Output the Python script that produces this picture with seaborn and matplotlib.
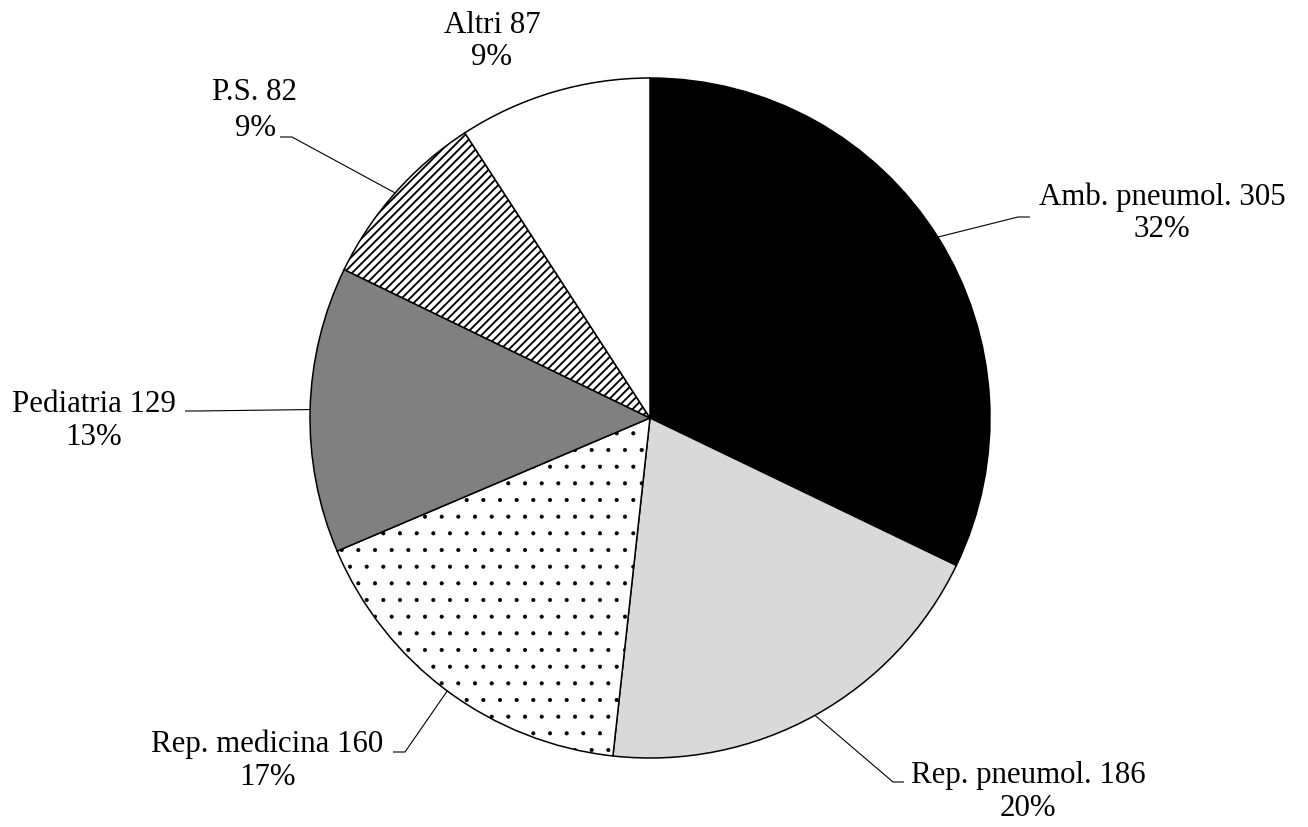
import numpy as np
import matplotlib
matplotlib.use("Agg")
import matplotlib.pyplot as plt
import seaborn as sns

# Data
categories = ["Amb. pneumol.", "Rep. pneumol.", "Rep. medicina", "Pediatria", "P.S.", "Altri"]
counts = [305, 186, 160, 129, 82, 87]
pct_labels = ["32%", "20%", "17%", "13%", "9%", "9%"]

# Styling per slice
face_colors = ["#000000", "#d9d9d9", "#ffffff", "#808080", "#ffffff", "#ffffff"]
hatches = [None, None, ".", None, "////", None]
hatch_widths = [None, None, 0.5, None, 1.35, None]

sns.set_theme(style="white")
plt.rcParams["font.family"] = ["Liberation Serif", "DejaVu Serif"]
plt.rcParams["hatch.linewidth"] = 1.0
plt.rcParams["hatch.color"] = "black"

W, H = 1308, 827
fig = plt.figure(figsize=(W / 100, H / 100), dpi=100)
ax = fig.add_axes([0, 0, 1, 1])


def py(y):
    """Convert a top-down pixel row into axis y."""
    return H - y


cx, cy, R = 650, 418, 340
wedges, _ = ax.pie(
    counts,
    startangle=90,
    counterclock=False,
    center=(cx, py(cy)),
    radius=R,
    colors=face_colors,
    wedgeprops=dict(edgecolor="black", linewidth=1.1),
    frame=True,
)
for w, h, hw in zip(wedges, hatches, hatch_widths):
    if h:
        w.set_hatch(h)
        if hasattr(w, "set_hatch_linewidth"):
            w.set_hatch_linewidth(hw)
ax.set_xlim(0, W)
ax.set_ylim(0, H)
ax.set_aspect("auto")
ax.set_axis_off()

# Label layout: (text centre x, first baseline, second baseline, elbow point, leader end)
label_layout = [
    (1162, 205, 237, (1018, 217), (1030, 217)),
    (1028, 783, 816, (893, 782), (904, 782)),
    (267, 752, 785, (405, 752), (393, 752)),
    (94, 412, 445, (197, 411), (185, 411)),
    (255, 100, 136, (292, 137), (280, 137)),
    (492, 33, 65, None, None),
]

fs = 22.2
for w, name, n, pct, (tx, b1, b2, elbow, end) in zip(
    wedges, categories, counts, pct_labels, label_layout
):
    ax.text(tx, py(b1), f"{name} {n}", ha="center", va="baseline", fontsize=fs, color="black")
    ax.text(tx, py(b2), pct, ha="center", va="baseline", fontsize=fs, color="black")
    if elbow is not None:
        mid = np.deg2rad((w.theta1 + w.theta2) / 2)
        x0 = cx + R * np.cos(mid)
        y0 = py(cy) + R * np.sin(mid)
        ax.plot([x0, elbow[0], end[0]], [y0, py(elbow[1]), py(end[1])],
                color="black", linewidth=0.8, solid_capstyle="butt")

fig.savefig("out.png", dpi=100, facecolor="white")
